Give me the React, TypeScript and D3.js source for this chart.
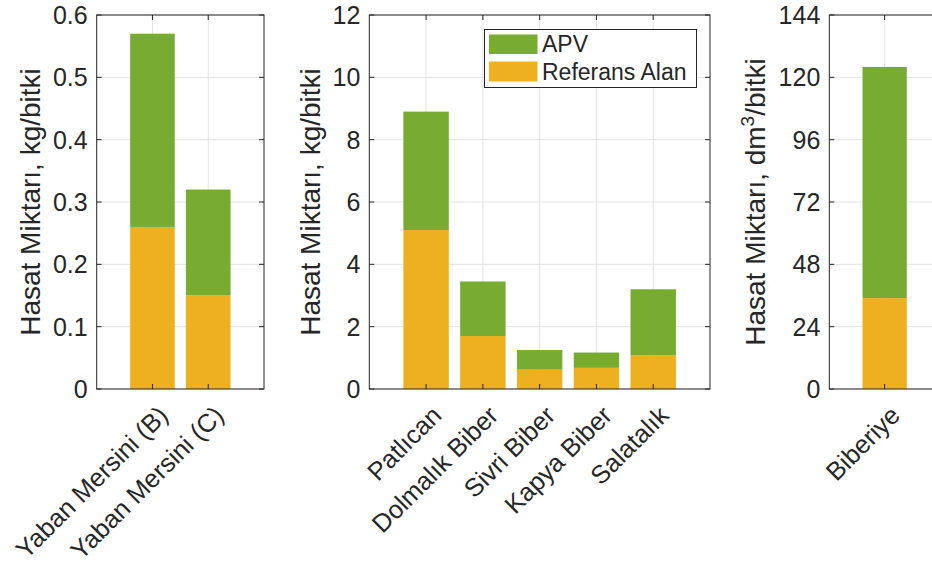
import React from "react";
import * as d3 from "d3";

const cat1 = ["Yaban Mersini (B)", "Yaban Mersini (C)"];
const ref1 = [0.26, 0.15];
const apv1 = [0.31, 0.17];
const ticks1 = [0, 0.1, 0.2, 0.3, 0.4, 0.5, 0.6];

const cat2 = ["Patlıcan", "Dolmalık Biber", "Sivri Biber", "Kapya Biber", "Salatalık"];
const ref2 = [5.1, 1.7, 0.62, 0.68, 1.08];
const apv2 = [3.8, 1.75, 0.63, 0.49, 2.12];
const ticks2 = [0, 2, 4, 6, 8, 10, 12];

const cat3 = ["Biberiye"];
const ref3 = [35];
const apv3 = [89];
const ticks3 = [0, 24, 48, 72, 96, 120, 144];

const seriesNames = ["APV", "Referans Alan"];

const GREEN = "#77AC30";
const ORANGE = "#EDB120";
const TXT = "#262626";
const GRID = "#e3e3e3";
const FONT = "'Liberation Sans', Arial, Helvetica, sans-serif";

const TOP = 15;
const BOTTOM = 389;

type PanelProps = {
  x0: number;
  x1: number;
  cats: string[];
  ref: number[];
  apv: number[];
  ticks: number[];
  fmt: (d: number) => string;
  labelX: number;
  label: React.ReactNode;
  legend?: boolean;
};

function Panel({ x0, x1, cats, ref, apv, ticks, fmt, labelX, label, legend }: PanelProps) {
  const n = cats.length;
  const x = d3.scaleLinear().domain([0, n + 1]).range([x0, x1]);
  const y = d3.scaleLinear().domain([0, ticks[ticks.length - 1]]).range([BOTTOM, TOP]);
  const rows = cats.map((c, i) => ({ idx: i + 1, ref: ref[i], apv: apv[i] }));
  const stacked = d3.stack<any>().keys(["ref", "apv"])(rows);
  const colors: Record<string, string> = { ref: ORANGE, apv: GREEN };
  const bw = x(0.8) - x(0);
  const xt = d3.range(1, n + 1);
  const tl = 5;
  return (
    <g>
      {ticks.map((t) => (
        <line key={"gy" + t} x1={x0} x2={x1} y1={y(t)} y2={y(t)} stroke={GRID} strokeWidth={1} />
      ))}
      {xt.map((t) => (
        <line key={"gx" + t} x1={x(t)} x2={x(t)} y1={TOP} y2={BOTTOM} stroke={GRID} strokeWidth={1} />
      ))}
      {stacked.map((s) =>
        s.map((d: any, i: number) => (
          <rect
            key={s.key + i}
            x={x(d.data.idx) - bw / 2}
            width={bw}
            y={y(d[1])}
            height={y(d[0]) - y(d[1])}
            fill={colors[s.key]}
          />
        ))
      )}
      <rect x={x0} y={TOP} width={x1 - x0} height={BOTTOM - TOP} fill="none" stroke={TXT} strokeWidth={1} />
      {ticks.map((t) => (
        <g key={"yt" + t}>
          <line x1={x0} x2={x0 + tl} y1={y(t)} y2={y(t)} stroke={TXT} />
          <line x1={x1} x2={x1 - tl} y1={y(t)} y2={y(t)} stroke={TXT} />
          <text
            x={x0 - 9}
            y={y(t)}
            dy="0.36em"
            textAnchor="end"
            fontSize={25}
            fontFamily={FONT}
            fill={TXT}
          >
            {fmt(t)}
          </text>
        </g>
      ))}
      {xt.map((t, i) => (
        <g key={"xt" + t}>
          <line x1={x(t)} x2={x(t)} y1={BOTTOM} y2={BOTTOM - tl} stroke={TXT} />
          <line x1={x(t)} x2={x(t)} y1={TOP} y2={TOP + tl} stroke={TXT} />
          <text
            transform={`translate(${x(t) + 17},${BOTTOM + 28}) rotate(-45)`}
            textAnchor="end"
            fontSize={25.5}
            fontFamily={FONT}
            fill={TXT}
          >
            {cats[i]}
          </text>
        </g>
      ))}
      <text
        transform={`translate(${labelX},${(TOP + BOTTOM) / 2}) rotate(-90)`}
        textAnchor="middle"
        fontSize={28}
        fontFamily={FONT}
        fill={TXT}
      >
        {label}
      </text>
      {legend && (
        <g>
          <rect x={484.5} y={29.5} width={212} height={58} fill="#fff" stroke={TXT} strokeWidth={1} />
          <rect x={489} y={34.5} width={48.5} height={19.5} fill={GREEN} />
          <rect x={489} y={61.5} width={48.5} height={20} fill={ORANGE} />
          <text x={542} y={44} dy="0.36em" fontSize={23} fontFamily={FONT} fill={TXT}>
            {seriesNames[0]}
          </text>
          <text x={542} y={71.5} dy="0.36em" fontSize={23} fontFamily={FONT} fill={TXT}>
            {seriesNames[1]}
          </text>
        </g>
      )}
    </g>
  );
}

export default function App() {
  return (
    <svg
      width={932}
      height={564}
      style={{ position: "absolute", left: 0, top: 0, background: "#fff" }}
    >
      <rect width={932} height={564} fill="#fff" />
      <Panel
        x0={96.7}
        x1={264}
        cats={cat1}
        ref={ref1}
        apv={apv1}
        ticks={ticks1}
        fmt={(d) => (d === 0 ? "0" : d.toFixed(1))}
        labelX={40}
        label="Hasat Miktarı,  kg/bitki"
      />
      <Panel
        x0={369.3}
        x1={710}
        cats={cat2}
        ref={ref2}
        apv={apv2}
        ticks={ticks2}
        fmt={(d) => String(d)}
        labelX={320}
        label="Hasat Miktarı,  kg/bitki"
        legend
      />
      <Panel
        x0={829.3}
        x1={940}
        cats={cat3}
        ref={ref3}
        apv={apv3}
        ticks={ticks3}
        fmt={(d) => String(d)}
        labelX={765}
        label={
          <>
            Hasat Miktarı, dm
            <tspan fontSize={19} dy={-11}>3</tspan>
            <tspan dy={11}>/bitki</tspan>
          </>
        }
      />
    </svg>
  );
}
